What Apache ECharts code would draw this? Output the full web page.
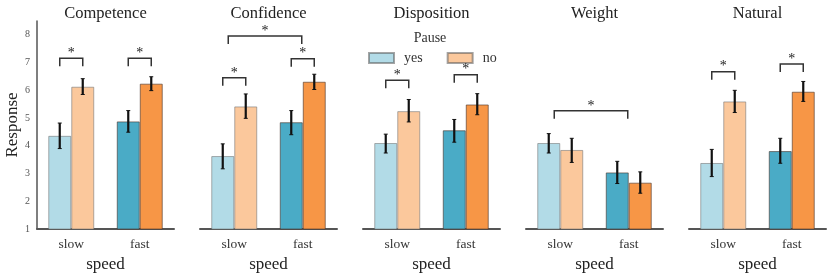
<!DOCTYPE html>
<html><head><meta charset="utf-8">
<script src="https://cdn.jsdelivr.net/npm/echarts@6/dist/echarts.min.js"></script>
<style>html,body{margin:0;padding:0;background:#fff}#c{width:831px;height:278px}</style>
</head><body><div id="c"></div>
<script>
const categories = ['slow', 'fast'];
const panels = ['Competence', 'Confidence', 'Disposition', 'Weight', 'Natural'];
const pauseLevels = ['yes', 'no'];
const yTicks = [1, 2, 3, 4, 5, 6, 7, 8];
// means per panel: [slow, fast]
const yesMeans = [[4.36, 4.88], [3.63, 4.85], [4.10, 4.56], [4.10, 3.04], [3.38, 3.81]];
const noMeans  = [[6.13, 6.24], [5.42, 6.31], [5.25, 5.49], [3.85, 2.67], [5.60, 5.95]];
const yesLow  = [[3.90, 4.49], [3.17, 4.40], [3.74, 4.13], [3.74, 2.64], [2.89, 3.37]];
const yesHigh = [[4.82, 5.27], [4.07, 5.27], [4.42, 4.95], [4.44, 3.44], [3.87, 4.27]];
const noLow   = [[5.85, 5.99], [4.99, 6.03], [4.86, 5.12], [3.40, 2.29], [5.20, 5.60]];
const noHigh  = [[6.42, 6.49], [5.87, 6.58], [5.67, 5.88], [4.27, 3.06], [6.00, 6.32]];
// significance brackets: [from, to, height]
const brackets = [
  [['slow-yes', 'slow-no', 7.16], ['fast-yes', 'fast-no', 7.16]],
  [['slow-yes', 'slow-no', 6.45], ['fast-yes', 'fast-no', 7.14], ['slow', 'fast', 7.96]],
  [['slow-yes', 'slow-no', 6.36], ['fast-yes', 'fast-no', 6.56]],
  [['slow', 'fast', 5.26]],
  [['slow-yes', 'slow-no', 6.67], ['fast-yes', 'fast-no', 6.95]]
];

const FONT = '"Liberation Serif", "DejaVu Serif", serif';
const BAR_W = 23;
const colors = {
  yes: { slow: '#b2dbe7', fast: '#4aabc6' },
  no:  { slow: '#fbc89c', fast: '#f79646' }
};
const GRID_LEFT0 = 37, GRID_STEP = 163, GRID_W = 137;

const chart = echarts.init(document.getElementById('c'));

function endPoint(name) {
  const parts = name.split('-');
  const ci = categories.indexOf(parts[0]);
  if (parts.length === 2) return [ci, parts[1] === 'yes' ? -BAR_W / 2 : BAR_W / 2];
  return [ci, ci === 0 ? -6 : -1];
}

const grids = [], xAxes = [], yAxes = [], series = [], titles = [];
panels.forEach((p, i) => {
  const left = GRID_LEFT0 + GRID_STEP * i;
  grids.push({ left: left, top: 21, width: GRID_W, height: 210 });
  titles.push({
    text: p, left: left + GRID_W / 2, top: 5, textAlign: 'center', padding: 0,
    textStyle: { fontFamily: FONT, fontSize: 16.5, fontWeight: 'normal', color: '#222' }
  });
  xAxes.push({
    type: 'category', gridIndex: i, data: categories,
    axisLine: { lineStyle: { color: '#555', width: 2 } },
    axisTick: { show: false },
    axisLabel: { fontFamily: FONT, fontSize: 13.5, color: '#333', margin: 8 },
    name: 'speed', nameLocation: 'middle', nameGap: 27,
    nameTextStyle: { fontFamily: FONT, fontSize: 17, color: '#222' }
  });
  yAxes.push({
    type: 'value', gridIndex: i, min: 1, max: 8.5, interval: 1,
    show: i === 0,
    axisLine: { show: i === 0, lineStyle: { color: '#555', width: 1.5 } },
    axisTick: { show: false },
    splitLine: { show: false },
    axisLabel: {
      show: i === 0, fontFamily: FONT, fontSize: 10, color: '#555', margin: 7,
      formatter: v => (yTicks.indexOf(v) >= 0 ? String(v) : '')
    },
    name: i === 0 ? 'Response' : '', nameLocation: 'middle', nameGap: 16,
    nameTextStyle: { fontFamily: FONT, fontSize: 17, color: '#222' }
  });

  [['yes', yesMeans, yesLow, yesHigh, -1], ['no', noMeans, noLow, noHigh, 1]].forEach(([lvl, means, lows, highs, sign]) => {
    series.push({
      type: 'bar', name: lvl, xAxisIndex: i, yAxisIndex: i,
      barWidth: BAR_W, barGap: '0%',
      itemStyle: { color: colors[lvl].slow, borderColor: 'rgba(90,90,90,0.55)', borderWidth: 1 },
      data: categories.map((c, ci) => ({
        value: means[i][ci],
        itemStyle: { color: colors[lvl][c], borderColor: c === 'slow' ? 'rgba(110,110,110,0.55)' : 'rgba(70,50,40,0.6)' }
      })),
      z: 2
    });
    series.push({
      type: 'custom', name: lvl + '-err', xAxisIndex: i, yAxisIndex: i,
      data: categories.map((c, ci) => [ci, lows[i][ci], highs[i][ci]]),
      encode: { x: 0, y: [1, 2] },
      renderItem: (params, api) => {
        const lo = api.coord([api.value(0), api.value(1)]);
        const hi = api.coord([api.value(0), api.value(2)]);
        const x = lo[0] + sign * BAR_W / 2;
        const st = { stroke: '#111', lineWidth: 2.2 };
        return {
          type: 'group', children: [
            { type: 'line', shape: { x1: x, y1: lo[1], x2: x, y2: hi[1] }, style: st },
            { type: 'line', shape: { x1: x - 2, y1: lo[1], x2: x + 2, y2: lo[1] }, style: { stroke: '#111', lineWidth: 1 } },
            { type: 'line', shape: { x1: x - 2, y1: hi[1], x2: x + 2, y2: hi[1] }, style: { stroke: '#111', lineWidth: 1 } }
          ]
        };
      },
      z: 5, silent: true
    });
  });

  series.push({
    type: 'custom', name: 'sig', xAxisIndex: i, yAxisIndex: i,
    data: brackets[i].map(b => {
      const a = endPoint(b[0]), c = endPoint(b[1]);
      return [a[0], c[0], b[2], a[1], c[1]];
    }),
    encode: { x: [0, 1], y: 2 },
    renderItem: (params, api) => {
      const p1 = api.coord([api.value(0), api.value(2)]);
      const p2 = api.coord([api.value(1), api.value(2)]);
      const x1 = p1[0] + api.value(3), x2 = p2[0] + api.value(4), y = p1[1];
      const drop = 8;
      return {
        type: 'group', children: [
          { type: 'polyline', shape: { points: [[x1, y + drop], [x1, y], [x2, y], [x2, y + drop]] },
            style: { stroke: '#333', lineWidth: 1.5, fill: null } },
          { type: 'text', x: (x1 + x2) / 2, y: y - 5,
            style: { text: '*', fontFamily: FONT, fontSize: 14, fill: '#222', align: 'center', verticalAlign: 'middle' } }
        ]
      };
    },
    z: 6, silent: true
  });
});

titles.push({
  text: 'Pause', left: 430, top: 31, textAlign: 'center', padding: 0,
  textStyle: { fontFamily: FONT, fontSize: 14, fontWeight: 'normal', color: '#333' }
});

chart.setOption({
  animation: false,
  title: titles,
  grid: grids,
  xAxis: xAxes,
  yAxis: yAxes,
  legend: {
    data: pauseLevels, left: 368, top: 51, icon: 'rect', padding: 0,
    itemWidth: 25, itemHeight: 10, itemGap: 24,
    textStyle: { fontFamily: FONT, fontSize: 14, color: '#333', padding: [0, 0, 0, 5] }
  },
  series: series
});
</script></body></html>
